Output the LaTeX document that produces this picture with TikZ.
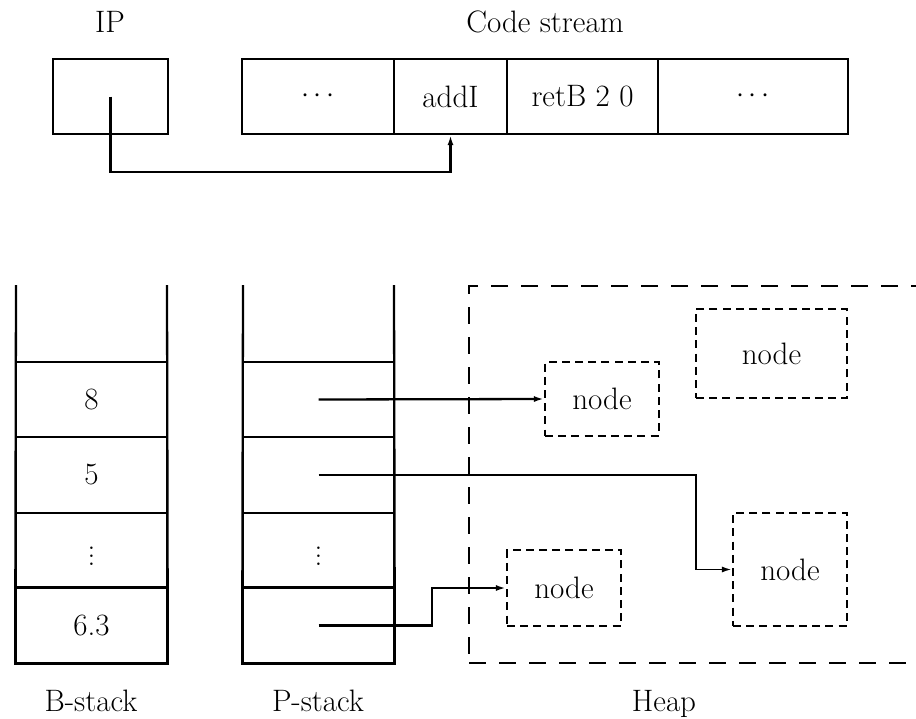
\documentclass[tikz,border=0pt]{standalone}
\usetikzlibrary{arrows.meta}
\begin{document}
\begin{tikzpicture}[x=0.5pt,y=-0.5pt,
  font=\fontsize{15.5}{18}\selectfont,
  >={Latex[length=5pt,width=3pt]},
  thickline/.style={line width=1.15pt},
  thinline/.style={line width=0.8pt},
  cellbox/.style={draw,thinline,inner sep=0pt,minimum width=75.5pt,minimum height=37.5pt},
  codecell/.style={draw,thickline,inner sep=0pt,minimum height=37.5pt},
  heapnode/.style={draw,line width=1.1pt,dash pattern=on 4pt off 2.6pt,inner sep=0pt},
  caption/.style={anchor=base,inner sep=0pt},
  ptr/.style={->,thickline}
]
\useasboundingbox (0,0) rectangle (916,718);
\clip (0,0) rectangle (916,718);

% instruction pointer and code stream
\node[caption] (iplabel) at (110,32) {IP};
\node[caption] (codelabel) at (545,32) {Code stream};
\node[codecell,minimum width=57.5pt] (ip) at (110.5,96.5) {};
\node[codecell,minimum width=76pt] (c1) at (318,96.5) {$\cdots$};
\node[codecell,minimum width=56.5pt] (c2) at (450.5,96.5) {addI};
\node[codecell,minimum width=75.5pt] (c3) at (582.5,96.5) {retB 2 0};
\node[codecell,minimum width=95pt] (c4) at (753,96.5) {$\cdots$};
\coordinate (ipbend) at (300,172);
\draw[ptr] (ip.center) |- (ipbend) -| (c2.south);

% B-stack
\node[cellbox] (b8) at (91.5,399.5) {8};
\node[cellbox] (b5) at (91.5,475) {5};
\node[cellbox] (bd) at (91.5,550.5) {$\vdots$};
\node[cellbox] (b63) at (91.5,625.5) {6.3};
\draw[thickline] (16,285) -- (b63.south west) -- (b63.south east) -- (167,285);
\draw[thickline] (b63.north west) -- (b63.north east);
\node[caption] (blabel) at (91,711) {B-stack};

% P-stack
\node[cellbox] (p8) at (318.5,399.5) {};
\node[cellbox] (p5) at (318.5,475) {};
\node[cellbox] (pd) at (318.5,550.5) {$\vdots$};
\node[cellbox] (p63) at (318.5,625.5) {};
\draw[thickline] (243,285) -- (p63.south west) -- (p63.south east) -- (394,285);
\draw[thickline] (p63.north west) -- (p63.north east);
\node[caption] (plabel) at (318,711) {P-stack};

% heap
\node[draw,line width=1.3pt,dash pattern=on 8.5pt off 6.5pt,inner sep=0pt,
      minimum width=245.5pt,minimum height=188.5pt] (heap) at (714.5,474.5) {};
\node[caption] (hlabel) at (664,711) {Heap};
\node[heapnode,minimum width=57pt,minimum height=37pt] (n1) at (602,399) {node};
\node[heapnode,minimum width=75.5pt,minimum height=44.5pt] (n2) at (771.5,353.5) {node};
\node[heapnode,minimum width=57pt,minimum height=56.5pt] (n3) at (790,569.5) {node};
\node[heapnode,minimum width=57pt,minimum height=38pt] (n4) at (564,588) {node};

% pointers from the P-stack into the heap
\coordinate (bendfive) at (696,0);
\coordinate (bendlast) at (432,0);
\draw[ptr] (p8.center) -- (n1.west);
\draw[->,line width=0.95pt] (p5.center) -- (p5.center -| bendfive) |- (n3.west);
\draw[ptr] (p63.center) -- (p63.center -| bendlast) |- (n4.west);
\end{tikzpicture}
\end{document}
